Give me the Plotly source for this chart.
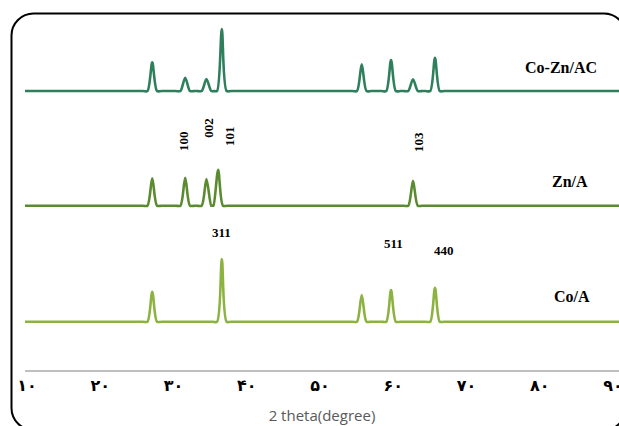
import plotly.graph_objects as go

# ---- data (2θ positions in degrees, relative intensities) ----
cozn_pos = [27.1, 31.6, 34.5, 36.6, 55.7, 59.7, 62.7, 65.7]
cozn_int = [28.7, 13.3, 12.0, 62.0, 26.7, 31.0, 11.7, 33.3]

zn_pos = [27.1, 31.6, 34.5, 36.1, 62.7]
zn_int = [27.3, 28.0, 26.7, 36.0, 25.0]

co_pos = [27.1, 36.6, 55.7, 59.7, 65.7]
co_int = [30.0, 62.7, 26.7, 31.7, 34.0]

tick_vals = [10, 20, 30, 40, 50, 60, 70, 80, 90]
tick_text = ["۱۰", "۲۰", "۳۰", "۴۰", "۵۰", "۶۰", "۷۰", "۸۰", "۹۰"]

# ---- style / layout ----
W, H = 619, 426
ML, MR, MT, MB = 25, 0, 0, 56
XMIN, XMAX = 9.73, 90.82
HALF = 0.65  # half base width of a peak, degrees

offsets = {"Co-Zn/AC": 279, "Zn/A": 164.3, "Co/A": 48.3}
colors = {"Co-Zn/AC": "#2E7F5C", "Zn/A": "#5B8B30", "Co/A": "#8CB23F"}


def profile(pos, inten, off):
    xs, ys = [XMIN], [off]
    for i, (p, h) in enumerate(zip(pos, inten)):
        lo = p - 2 * HALF
        if i > 0:
            lo = max(lo, (pos[i - 1] + p) / 2)
        hi = p + 2 * HALF
        if i < len(pos) - 1:
            hi = min(hi, (pos[i + 1] + p) / 2)
        xs += [lo, p - HALF, p, p + HALF, hi]
        ys += [off, off, off + h, off, off]
    xs.append(XMAX)
    ys.append(off)
    return xs, ys


fig = go.Figure()
for name, pos, inten in [("Co-Zn/AC", cozn_pos, cozn_int),
                         ("Zn/A", zn_pos, zn_int),
                         ("Co/A", co_pos, co_int)]:
    xs, ys = profile(pos, inten, offsets[name])
    fig.add_trace(go.Scatter(x=xs, y=ys, mode="lines", name=name,
                             line=dict(color=colors[name], width=2.6,
                                       shape="spline", smoothing=0.8),
                             showlegend=False, hoverinfo="skip"))

serif = "Liberation Serif, Times New Roman, serif"
ann = []
for txt, x, y in [("Co-Zn/AC", 82.9, 303), ("Zn/A", 84.1, 189), ("Co/A", 84.4, 74)]:
    ann.append(dict(x=x, y=y, text="<b>%s</b>" % txt, showarrow=False,
                    font=dict(family=serif, size=16, color="black")))
for txt, x, y in [("100", 31.3, 229), ("002", 34.67, 242), ("101", 37.58, 234),
                  ("103", 63.38, 228)]:
    ann.append(dict(x=x, y=y, text="<b>%s</b>" % txt, showarrow=False, textangle=-90,
                    font=dict(family=serif, size=13, color="black")))
for txt, x, y in [("311", 36.62, 138), ("511", 60.1, 127), ("440", 66.93, 120)]:
    ann.append(dict(x=x, y=y, text="<b>%s</b>" % txt, showarrow=False,
                    font=dict(family=serif, size=13, color="black")))

# rounded frame, given in page pixels -> paper coordinates
pw, ph = W - ML - MR, H - MT - MB


def P(px, py):
    return "%.5f,%.5f" % ((px - ML) / pw, (H - MB - py) / ph)


L, T, R, B, r = 11.5, 13.5, 626, 430, 22
k = 0.552 * r
path = ("M " + P(L, T + r) +
        " C " + P(L, T + r - k) + " " + P(L + r - k, T) + " " + P(L + r, T) +
        " L " + P(R - r, T) +
        " C " + P(R - r + k, T) + " " + P(R, T + r - k) + " " + P(R, T + r) +
        " L " + P(R, B - r) +
        " C " + P(R, B - r + k) + " " + P(R - r + k, B) + " " + P(R - r, B) +
        " L " + P(L + r, B) +
        " C " + P(L + r - k, B) + " " + P(L, B - r + k) + " " + P(L, B - r) + " Z")

fig.update_layout(
    width=W, height=H,
    margin=dict(l=ML, r=MR, t=MT, b=MB, autoexpand=False),
    paper_bgcolor="white", plot_bgcolor="white",
    annotations=ann,
    shapes=[dict(type="path", xref="paper", yref="paper", path=path,
                 line=dict(color="black", width=2), layer="above")],
    xaxis=dict(range=[XMIN, XMAX], tickmode="array", tickvals=tick_vals,
               ticktext=tick_text, showgrid=False, zeroline=False,
               showline=True, linecolor="#BFBFBF", linewidth=1.5, ticks="",
               ticklabeloverflow="allow",
               tickfont=dict(family="DejaVu Sans", size=16, color="black", weight="bold"),
               title=dict(text="2 theta(degree)", standoff=17,
                          font=dict(family="Open Sans", size=15, color="#595959"))),
    yaxis=dict(range=[0, H - MT - MB], visible=False),
)

fig.write_html("out.html", config={"displayModeBar": False},
               post_script="document.body.style.margin='0';"
                           "document.body.style.overflow='hidden';")
